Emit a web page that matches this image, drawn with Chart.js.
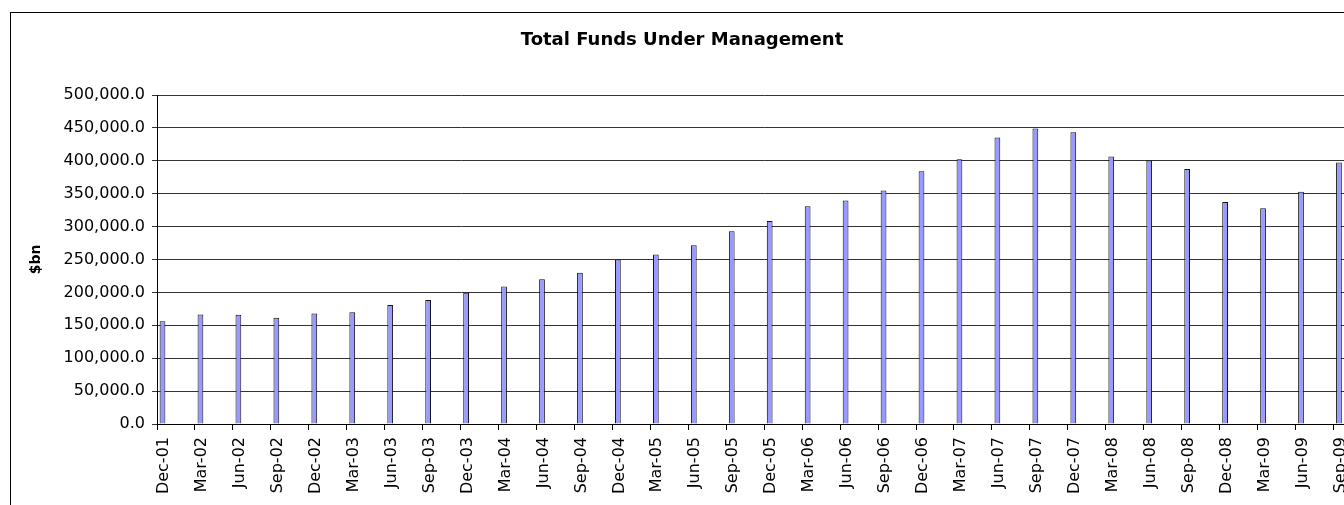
<!DOCTYPE html>
<html>
<head>
<meta charset="utf-8">
<title>Total Funds Under Management</title>
<script src="https://cdn.jsdelivr.net/npm/chart.js@4.4.1/dist/chart.umd.min.js"></script>
<style>
    html, body {
        margin: 0;
        padding: 0;
        background: #fff;
        overflow: hidden;
        width: 1344px;
        height: 505px;
    }
    .frame {
        position: absolute;
        left: 10px;
        top: 12px;
        width: 2000px;
        height: 1000px;
        border: 1px solid #000;
    }
    .chart-title {
        position: absolute;
        left: 482px;
        top: 30px;
        width: 400px;
        text-align: center;
        font: bold 18px/18px "DejaVu Sans", sans-serif;
        color: #000;
        white-space: nowrap;
    }
    #fundsChart {
        position: absolute;
        left: 0;
        top: 0;
    }
</style>
</head>
<body>
<div class="frame"></div>
<canvas id="fundsChart" width="1380" height="505"></canvas>
<div class="chart-title">Total Funds Under Management</div>
<script>
// Quarter labels
const quarters = [
    'Dec-01', 'Mar-02', 'Jun-02', 'Sep-02', 'Dec-02', 'Mar-03', 'Jun-03', 'Sep-03',
    'Dec-03', 'Mar-04', 'Jun-04', 'Sep-04', 'Dec-04', 'Mar-05', 'Jun-05', 'Sep-05',
    'Dec-05', 'Mar-06', 'Jun-06', 'Sep-06', 'Dec-06', 'Mar-07', 'Jun-07', 'Sep-07',
    'Dec-07', 'Mar-08', 'Jun-08', 'Sep-08', 'Dec-08', 'Mar-09', 'Jun-09', 'Sep-09'
];

// Total funds, $bn
const totalFunds = [
    156000, 166500, 166000, 161500, 168000, 170000, 181000, 188500,
    199500, 209000, 220000, 230000, 250000, 257500, 271500, 293000,
    308500, 331000, 339500, 355000, 384000, 402500, 435500, 449000,
    443500, 406500, 400500, 387500, 337500, 328000, 353000, 397500
];

// Y axis range
const yMin = 0;
const yMax = 500000;
const yStep = 50000;

document.addEventListener('DOMContentLoaded', function () {
    const chartEl = document.getElementById('fundsChart');
    const axisFont = { family: 'DejaVu Sans', size: 16 };

    // Number format like 350,000.0
    function formatTick(value) {
        return value.toLocaleString('en-US', {
            minimumFractionDigits: 1,
            maximumFractionDigits: 1
        });
    }

    // The spreadsheet had empty series next to the real one,
    // so each bar sits at the left of its category slot
    const emptySlot = { label: '', data: [], backgroundColor: 'transparent' };

    new Chart(chartEl.getContext('2d'), {
        type: 'bar',
        data: {
            labels: quarters,
            datasets: [
                {
                    label: 'Total Funds',
                    data: totalFunds,
                    backgroundColor: '#9999ff',
                    borderColor: '#111',
                    borderWidth: 1,
                    borderSkipped: 'bottom'
                },
                emptySlot,
                { ...emptySlot },
                { ...emptySlot }
            ]
        },
        options: {
            responsive: false,
            animation: false,
            categoryPercentage: 0.947,
            barPercentage: 0.64,
            layout: {
                padding: { top: 95, right: 8.6, bottom: 0, left: 0 }
            },
            plugins: {
                legend: { display: false },
                title: { display: false },
                tooltip: { enabled: false }
            },
            scales: {
                x: {
                    offset: true,
                    grid: {
                        offset: true,
                        drawOnChartArea: false,
                        tickLength: 6,
                        color: '#000'
                    },
                    border: { color: '#000', width: 1 },
                    ticks: {
                        font: axisFont,
                        color: '#000',
                        minRotation: 90,
                        maxRotation: 90,
                        autoSkip: false,
                        padding: 7,
                        labelOffset: -12
                    },
                    afterFit: function (scale) {
                        scale.height = 81;
                    }
                },
                y: {
                    min: yMin,
                    max: yMax,
                    ticks: {
                        stepSize: yStep,
                        font: axisFont,
                        color: '#000',
                        padding: 7,
                        callback: formatTick
                    },
                    grid: {
                        color: '#333',
                        tickLength: 5
                    },
                    border: { color: '#000', width: 1 },
                    title: {
                        display: true,
                        text: '$bn',
                        color: '#000',
                        font: { family: 'DejaVu Sans', size: 14, weight: 'bold' },
                        padding: { top: 28, bottom: 0 }
                    },
                    afterFit: function (scale) {
                        scale.width = 157;
                    }
                }
            }
        }
    });
});
</script>
</body>
</html>
